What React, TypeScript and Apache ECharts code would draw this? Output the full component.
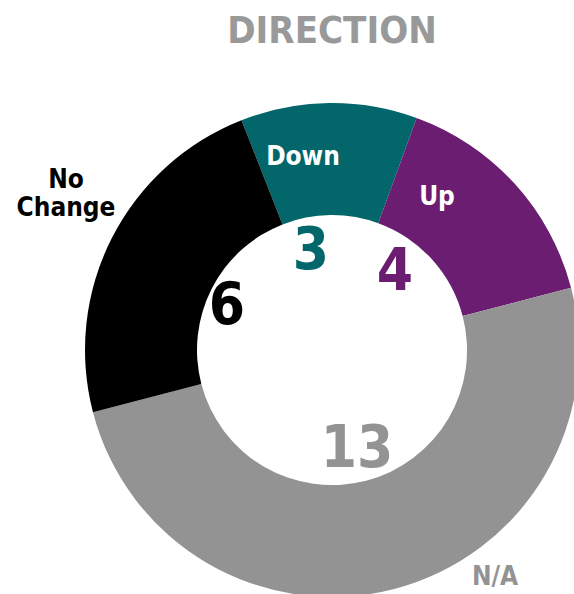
import React, { useEffect, useRef } from "react";
import * as echarts from "echarts";

const categories = ["Down", "Up", "N/A", "No Change"];
const values = [3, 4, 13, 6];
const colors = ["#02666A", "#6B1D72", "#939393", "#000000"];
const nameColors = ["#FFFFFF", "#FFFFFF", "#939393", "#000000"];
const titleText = "DIRECTION";

const FONT = "'Liberation Sans Narrow', 'DejaVu Sans Condensed', sans-serif";

// label anchor positions (text placement only)
const namePos = [
  [303, 156],
  [437, 196],
  [495, 576],
  [66, 193],
];
const numPos = [
  [311, 249],
  [395, 270],
  [357, 447],
  [227, 304],
];

export default function App() {
  const ref = useRef<HTMLDivElement>(null);
  useEffect(() => {
    if (!ref.current) return;
    const chart = echarts.init(ref.current, null, { renderer: "svg" });
    chart.setOption({
      animation: false,
      backgroundColor: "#ffffff",
      graphic: [
        {
          type: "text",
          x: 332,
          y: 30,
          style: {
            text: titleText,
            textAlign: "center",
            textVerticalAlign: "middle",
            fontSize: 38,
            fontWeight: "bold",
            fontFamily: FONT,
            fill: "#999999",
          },
        },
      ],
      series: [
        {
          type: "pie",
          center: [332, 350],
          radius: [135, 247],
          startAngle: 111.5,
          clockwise: true,
          silent: true,
          data: categories.map((c, i) => ({
            name: c,
            value: values[i],
            itemStyle: { color: colors[i] },
            label: { color: nameColors[i] },
          })),
          label: {
            show: true,
            position: "inside",
            formatter: (p: any) => (p.name === "No Change" ? "No\nChange" : p.name),
            fontFamily: FONT,
            fontSize: 26,
            fontWeight: "bold",
            lineHeight: 28,
            align: "center",
          },
          labelLine: { show: false },
          labelLayout: (p: any) => ({
            x: namePos[p.dataIndex][0],
            y: namePos[p.dataIndex][1],
            align: "center",
            verticalAlign: "middle",
          }),
        },
        {
          type: "pie",
          center: [332, 350],
          radius: [0, 134],
          startAngle: 111.5,
          clockwise: true,
          silent: true,
          data: categories.map((c, i) => ({
            name: c,
            value: values[i],
            itemStyle: { color: "rgba(0,0,0,0)" },
            label: { color: colors[i] },
          })),
          label: {
            show: true,
            position: "inside",
            formatter: "{c}",
            fontFamily: FONT,
            fontSize: 58,
            fontWeight: "bold",
          },
          labelLine: { show: false },
          labelLayout: (p: any) => ({
            x: numPos[p.dataIndex][0],
            y: numPos[p.dataIndex][1],
            align: "center",
            verticalAlign: "middle",
          }),
        },
      ],
    });
    return () => chart.dispose();
  }, []);
  return (
    <div
      ref={ref}
      style={{ position: "absolute", left: 0, top: 0, width: 574, height: 594 }}
    />
  );
}
